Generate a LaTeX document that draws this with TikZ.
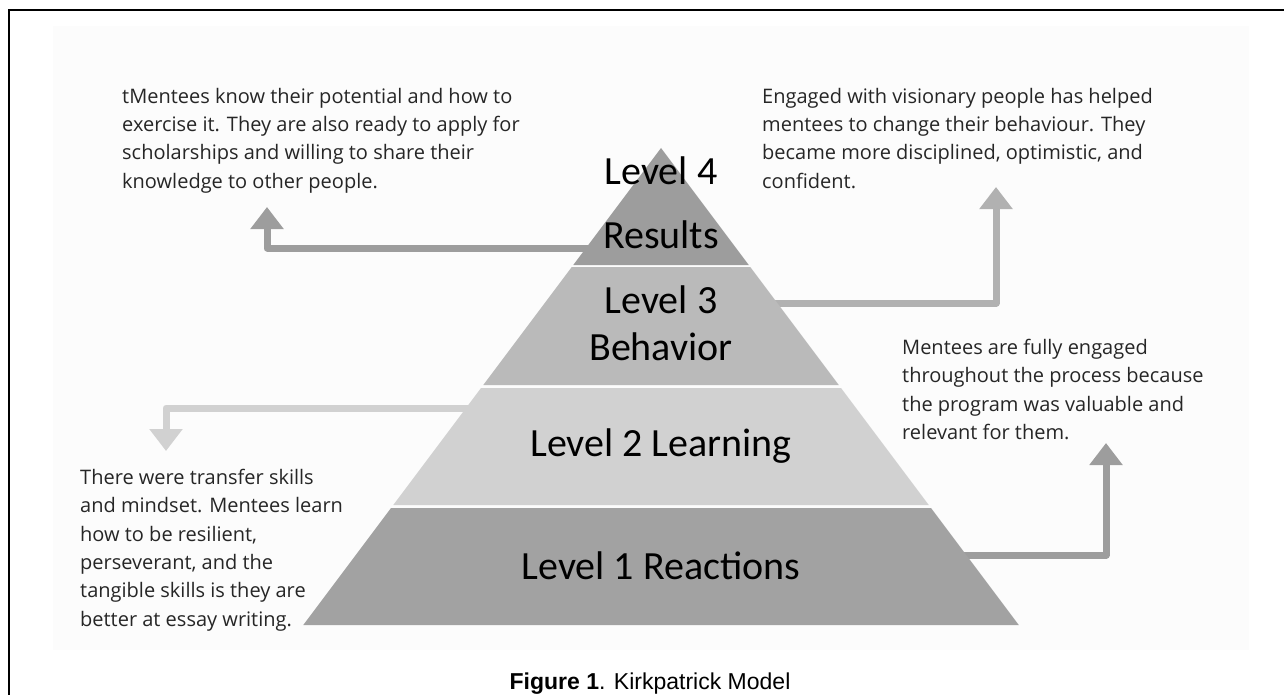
\documentclass[tikz,border=0pt]{standalone}
\usepackage{fontspec}
\setmainfont{Open Sans}
\newfontfamily\calfont{Carlito}
\newfontfamily\arialfont{Liberation Sans}
\usetikzlibrary{arrows.meta}
\definecolor{gfour}{HTML}{9D9D9D}
\definecolor{gthree}{HTML}{BABABA}
\definecolor{gtwo}{HTML}{D1D1D1}
\definecolor{gone}{HTML}{A2A2A2}
\definecolor{txt}{HTML}{262626}
\begin{document}
\begin{tikzpicture}[x=1pt,y=-1pt,
  desc/.style={anchor=north west, align=left, inner sep=0pt, text=txt,
    font=\fontsize{20}{28.3}\selectfont},
  lvl/.style={anchor=base, inner sep=0pt, font=\calfont\fontsize{40}{44}\selectfont},
  conn/.style={line width=7pt, line join=round, -{Triangle[width=32pt,length=22pt]}}]
\useasboundingbox (0,0) rectangle (1284,695);
% background and frame
\fill[black!1.2] (53,26) rectangle (1249,650);
\draw[line width=2.2pt] (9,695) -- (9,10) -- (1284,10);

% connector coordinates
\coordinate (s4) at (620,248);
\coordinate (e4) at (267,207);
\coordinate (s3) at (740,303);
\coordinate (e3) at (996,187);
\coordinate (s2) at (520,408);
\coordinate (e2) at (166,451);
\coordinate (s1) at (900,555);
\coordinate (e1) at (1106,443);

\draw[conn, gfour] (s4) -| (e4);
\draw[conn, gthree!95!black] (s3) -| (e3);
\draw[conn, gtwo] (s2) -| (e2);
\draw[conn, gone!97!black] (s1) -| (e1);

% pyramid
\fill[gfour] (661,148) -- (748.75,265) -- (573.25,265) -- cycle;
\fill[gthree] (571.75,267) -- (750.25,267) -- (838.75,385) -- (483.25,385) -- cycle;
\fill[gtwo] (481,388) -- (841,388) -- (928.75,505) -- (393.25,505) -- cycle;
\fill[gone] (391,508) -- (931,508) -- (1018.75,625) -- (303.25,625) -- cycle;

% level labels
\node[lvl] (l4a) at (661,185) {Level 4};
\node[lvl] (l4b) at (661,248) {Results};
\node[lvl] (l3a) at (661,313) {Level 3};
\node[lvl] (l3b) at (661,360) {Behavior};
\node[lvl] (l2) at (661,456) {Level 2 Learning};
\node[lvl] (l1) at (661,579) {Level 1 Reactions};

% descriptions
\node[desc] (tl) at (122,88) {tMentees know their potential and how to\\exercise it. They are also ready to apply for\\scholarships and willing to share their\\knowledge to other people.};
\node[desc] (tr) at (762,88) {Engaged with visionary people has helped\\mentees to change their behaviour. They\\became more disciplined, optimistic, and\\confident.};
\node[desc] (rm) at (902,339) {Mentees are fully engaged\\throughout the process because\\the program was valuable and\\relevant for them.};
\node[desc] (bl) at (80,469) {There were transfer skills\\and mindset. Mentees learn\\how to be resilient,\\perseverant, and the\\tangible skills is they are\\better at essay writing.};

% caption
\node[anchor=base, inner sep=0pt, font=\arialfont\fontsize{23}{26}\selectfont] (cap) at (650,689) {\textbf{Figure 1}. Kirkpatrick Model};
\end{tikzpicture}
\end{document}
